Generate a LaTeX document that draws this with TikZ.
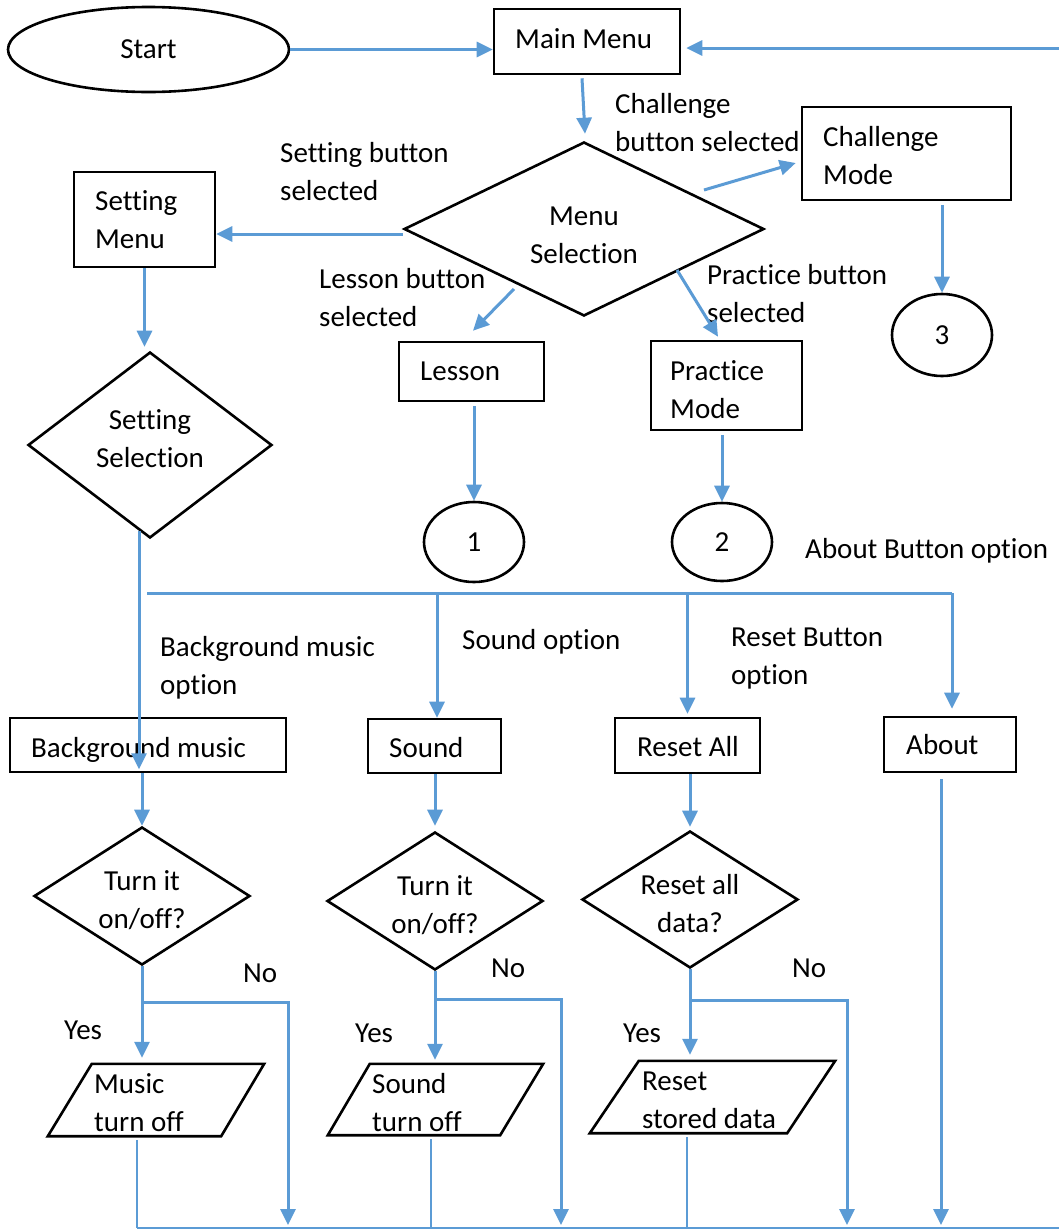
\documentclass[tikz,border=0pt]{standalone}
\usepackage{fontspec}
\setmainfont{Carlito}[Ligatures=NoCommon]
\usetikzlibrary{shapes.geometric,arrows.meta,calc}
\definecolor{flowblue}{HTML}{5B9BD5}
\begin{document}
\begin{tikzpicture}[x=1pt,y=-1pt,
  every node/.style={font=\fontsize{29}{38}\selectfont, inner sep=0pt},
  box/.style={draw, line width=2.6pt, rectangle},
  dec/.style={draw, line width=2.6pt, diamond},
  term/.style={draw, line width=2.6pt, ellipse},
  iobox/.style={rectangle},
  outline/.style={draw, line width=2.6pt, line join=miter},
  % multi-line texts are placed by the baseline of their last line
  txt/.style={anchor=base west, align=left},
  ctxt/.style={anchor=base, align=center},
  flow/.style={draw=flowblue, line width=3pt},
  arr/.style={flow, -{Triangle[length=16pt,width=15pt]}},
  thinflow/.style={draw=flowblue, line width=1.4pt}]

\fill[white] (0,0) rectangle (1059,1229);
\useasboundingbox (0,0) rectangle (1059,1229);

% ---------- upper part: main menu and its choices ----------
\node[term, minimum width=281, minimum height=85] (start) at (148.5,49.5) {Start};
\node[box, minimum width=186, minimum height=65] (mm) at (587,41.5) {};
\node[txt] at (515,48) {Main Menu};

\node[dec, minimum width=360, minimum height=174] (msel) at (584,229) {};
\node[ctxt] at (584,263) {Menu\\Selection};

\node[box, minimum width=141, minimum height=95] (sm) at (144.5,219.5) {};
\node[txt] at (95,248) {Setting\\Menu};

\node[box, minimum width=209, minimum height=93] (cm) at (906.5,153.5) {};
\node[txt] at (823,184) {Challenge\\Mode};

\node[box, minimum width=145, minimum height=59] (lesson) at (471.5,371.5) {};
\node[txt] at (420,380) {Lesson};

\node[box, minimum width=151, minimum height=89] (pm) at (726.5,385.5) {};
\node[txt] at (670,418) {Practice\\Mode};

\node[term, minimum width=100, minimum height=82] (c3) at (942,335) {3};
\node[term, minimum width=100, minimum height=80] (c1) at (474,542) {1};
\node[term, minimum width=100, minimum height=78] (c2) at (722,542) {2};

\node[dec, minimum width=244, minimum height=186] (ssel) at (150,445) {};
\node[ctxt] at (150,467) {Setting\\Selection};

% branch labels
\node[txt] at (615,151) {Challenge\\button selected};
\node[txt] at (280,200) {Setting button\\selected};
\node[txt] at (319,326) {Lesson button\\selected};
\node[txt] at (707,322) {Practice button\\selected};
\node[txt] at (805,558) {About Button option};
\node[txt] at (731,684) {Reset Button\\option};
\node[txt] at (160,694) {Background music\\option};
\node[txt] at (462,649) {Sound option};

% ---------- lower part: settings ----------
\node[box, minimum width=276, minimum height=54] (bgm) at (148,745) {};
\node[txt] at (31,757) {Background music};
\node[box, minimum width=133, minimum height=54] (sound) at (434.5,746) {};
\node[txt] at (389,757) {Sound};
\node[box, minimum width=145, minimum height=55] (reset) at (687.5,745.5) {};
\node[txt] at (637,756) {Reset All};
\node[box, minimum width=132, minimum height=55] (about) at (950,744.5) {};
\node[txt] at (906,754) {About};

\node[dec, minimum width=216, minimum height=138] (d1) at (142,896) {};
\node[ctxt] at (142,928) {Turn it\\on/off?};
\node[dec, minimum width=216, minimum height=138] (d2) at (435,901) {};
\node[ctxt] at (435,933) {Turn it\\on/off?};
\node[dec, minimum width=216, minimum height=137] (d3) at (690,899.5) {};
\node[ctxt] at (690,932) {Reset all\\data?};

% data (parallelogram) blocks: a frame node, outline slanted inside it
\node[iobox, minimum width=216, minimum height=72] (p1) at (156,1100) {};
\draw[outline] ($(p1.north west)+(44,0)$) -- (p1.north east)
  -- ($(p1.south east)+(-43,0)$) -- (p1.south west) -- cycle;
\node[txt] at (94,1131) {Music\\turn off};

\node[iobox, minimum width=215, minimum height=71] (p2) at (435.5,1099.5) {};
\draw[outline] ($(p2.north west)+(42,0)$) -- (p2.north east)
  -- ($(p2.south east)+(-43,0)$) -- (p2.south west) -- cycle;
\node[txt] at (372,1131) {Sound\\turn off};

\node[iobox, minimum width=245, minimum height=72] (p3) at (712.5,1097) {};
\draw[outline] ($(p3.north west)+(49,0)$) -- (p3.north east)
  -- ($(p3.south east)+(-48,0)$) -- (p3.south west) -- cycle;
\node[txt] at (642,1128) {Reset\\stored data};

\node[txt] at (243,982) {No};
\node[txt] at (491,977) {No};
\node[txt] at (792,977) {No};
\node[txt] at (64,1039) {Yes};
\node[txt] at (355,1042) {Yes};
\node[txt] at (623,1042) {Yes};

% ---------- connector end points ----------
\coordinate (edgeR) at (1059,48);
\coordinate (busL) at (147,593);
\coordinate (busR) at (952,593);
\coordinate (n1) at (288,1228);
\coordinate (n2) at (561,1228);
\coordinate (n3) at (847,1228);
\coordinate (n4) at (941,1228);
\coordinate (t1) at (137,1228);
\coordinate (t2) at (431,1228);
\coordinate (t3) at (687,1228);
\coordinate (botR) at (1059,1228);

% ---------- connectors ----------
\draw[arr] (start.east) -- (start.east -| mm.west);
\draw[arr, shorten >=5pt] (edgeR) -- (edgeR -| mm.east);
\draw[arr] ($(mm.south)+(-5,3)$) -- ($(msel.north)+(1,-7)$);
\draw[arr] ($(msel.west)+(0,5)$) coordinate (s0) -- (s0 -| sm.east);
\draw[arr] ($(msel.center)+(120,-39)$) -- ($(cm.west)+(-5,9.5)$);
\draw[arr] ($(msel.center)+(-70,60)$) -- ($(lesson.north)+(1.5,-10)$);
\draw[arr] ($(msel.center)+(93,41)$) -- ($(pm.north)+(-8.5,-3)$);
\draw[arr] ([yshift=-4pt]cm.south -| c3.north) -- (c3.north);
\draw[arr, shorten >=4pt] (sm.south) -- (sm.south |- ssel.north);
\draw[arr] ([yshift=-4pt]lesson.south -| c1.north) -- (c1.north);
\draw[arr] ([yshift=-4pt]pm.south -| c2.north) -- (c2.north);

\draw[arr] ($(ssel.south)+(-11,-8)$) -- ($(bgm.south)+(-9,-4)$);
\draw[flow] (busL) -- (busR);
\draw[arr, shorten >=7pt] (busR) -- (busR |- about.north);
\draw[arr, shorten >=3pt] (reset.north |- busL) -- (reset.north);
\draw[arr] ($(sound.north |- busL)+(2.5,0)$) -- ($(sound.north)+(2.5,0)$);

\draw[arr] (d1.north |- bgm.south) -- (d1.north);
\draw[arr, shorten >=5pt] (d2.north |- sound.south) -- (d2.north);
\draw[arr, shorten >=3pt] (d3.north |- reset.south) -- (d3.north);

\draw[arr, shorten >=6pt] (d1.south) -- (d1.south |- p1.north);
\draw[arr, shorten >=4pt] (d2.south) -- (d2.south |- p2.north);
\draw[arr, shorten >=6pt] (d3.south) -- (d3.south |- p3.north);

\draw[arr, shorten >=3pt] ($(d1.south)+(0,36)$) -| (n1);
\draw[arr, shorten >=3pt] ($(d2.south)+(0,28)$) -| (n2);
\draw[arr, shorten >=3pt] ($(d3.south)+(0,31)$) -| (n3);
\draw[arr, shorten >=3pt] ([yshift=-6pt]about.south -| n4) -- (n4);

\draw[thinflow] ([yshift=-4pt]p1.south -| t1) -- (t1);
\draw[thinflow] ([yshift=-4pt]p2.south -| t2) -- (t2);
\draw[thinflow] ([yshift=-4pt]p3.south -| t3) -- (t3);
\draw[thinflow] (t1) -- (botR);
\end{tikzpicture}
\end{document}
